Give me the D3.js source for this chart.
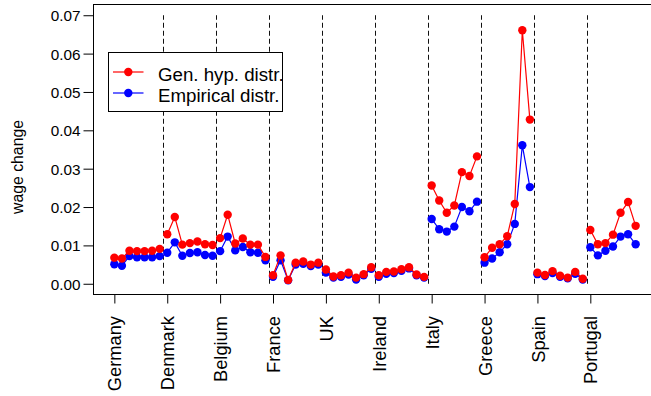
<!DOCTYPE html>
<html>
<head>
<meta charset="utf-8">
<script src="https://cdn.jsdelivr.net/npm/d3@7"></script>
<style>
  body { margin: 0; background: #fff; }
  svg { display: block; font-family: "Liberation Sans", Arial, sans-serif; }
</style>
</head>
<body>
<svg id="chart" width="651" height="396"></svg>
<script>
const countries = ["Germany", "Denmark", "Belgium", "France", "UK",
                   "Ireland", "Italy", "Greece", "Spain", "Portugal"];

const genHyp = [
  [0.0068, 0.0066, 0.0086, 0.0085, 0.0085, 0.0086, 0.0091],
  [0.0129, 0.0174, 0.0102, 0.0106, 0.0110, 0.0103, 0.0101],
  [0.0119, 0.0180, 0.0105, 0.0118, 0.0102, 0.0102, 0.0070],
  [0.0022, 0.0074, 0.0010, 0.0055, 0.0058, 0.0050, 0.0055],
  [0.0037, 0.0019, 0.0022, 0.0029, 0.0016, 0.0025, 0.0043],
  [0.0022, 0.0031, 0.0032, 0.0038, 0.0043, 0.0024, 0.0018],
  [0.0256, 0.0217, 0.0185, 0.0204, 0.0291, 0.0281, 0.0332],
  [0.0069, 0.0094, 0.0103, 0.0124, 0.0208, 0.0661, 0.0428],
  [0.0029, 0.0023, 0.0033, 0.0021, 0.0016, 0.0031, 0.0013],
  [0.0140, 0.0103, 0.0106, 0.0128, 0.0185, 0.0213, 0.0151]
];

const empirical = [
  [0.0051, 0.0047, 0.0072, 0.0069, 0.0069, 0.0069, 0.0072],
  [0.0081, 0.0108, 0.0073, 0.0080, 0.0082, 0.0075, 0.0073],
  [0.0085, 0.0123, 0.0087, 0.0096, 0.0082, 0.0081, 0.0061],
  [0.0018, 0.0061, 0.0009, 0.0050, 0.0052, 0.0046, 0.0050],
  [0.0029, 0.0016, 0.0018, 0.0024, 0.0011, 0.0022, 0.0039],
  [0.0018, 0.0026, 0.0028, 0.0034, 0.0040, 0.0022, 0.0016],
  [0.0169, 0.0142, 0.0136, 0.0149, 0.0200, 0.0189, 0.0214],
  [0.0055, 0.0066, 0.0082, 0.0103, 0.0156, 0.0361, 0.0252],
  [0.0025, 0.0020, 0.0028, 0.0018, 0.0014, 0.0026, 0.0011],
  [0.0095, 0.0074, 0.0086, 0.0097, 0.0123, 0.0129, 0.0103]
];

const yTicks = [0, 0.01, 0.02, 0.03, 0.04, 0.05, 0.06, 0.07];

const series = [
  {name: "Gen. hyp. distr.", color: "#ff0000", values: genHyp},
  {name: "Empirical distr.", color: "#0000ff", values: empirical}
];

const perCountry = 7;
const n = countries.length * perCountry;

const svg = d3.select("#chart");
const box = {left: 93.5, right: 656.5, top: 4.5, bottom: 294.5};

// R style 4% padding around 1..n and 0..0.07
let xPad = (n - 1) * 0.04, yPad = 0.07 * 0.04;
const x = d3.scaleLinear().domain([1 - xPad, n + xPad]).range([box.left, box.right]);
const y = d3.scaleLinear().domain([-yPad, 0.07 + yPad]).range([box.bottom, box.top]);

// country separators
const seps = d3.range(1, countries.length).map(i => i * perCountry + 0.5);
svg.append("g").selectAll("line").data(seps).join("line")
  .attr("x1", d => Math.round(x(d)) + 0.5).attr("x2", d => Math.round(x(d)) + 0.5)
  .attr("y1", y(0)).attr("y2", y(0.07))
  .attr("stroke", "#111").attr("stroke-width", 1)
  .attr("stroke-dasharray", "5,3");

// blue first, red drawn over it
const line = d3.line().x(d => x(d.i)).y(d => y(d.v));
series.slice().reverse().forEach(s => {
  let g = svg.append("g");
  s.values.forEach((vals, c) => {
    let pts = vals.map((v, k) => ({i: c * perCountry + k + 1, v: v}));
    g.append("path").datum(pts).attr("d", line)
      .attr("fill", "none").attr("stroke", s.color).attr("stroke-width", 1.2);
    g.selectAll(null).data(pts).join("circle")
      .attr("cx", d => x(d.i)).attr("cy", d => y(d.v)).attr("r", 4.2)
      .attr("fill", s.color);
  });
});

// plot frame
svg.append("rect")
  .attr("x", box.left).attr("y", box.top)
  .attr("width", box.right - box.left).attr("height", box.bottom - box.top)
  .attr("fill", "none").attr("stroke", "#000").attr("stroke-width", 1);

// y axis
const yAxis = svg.append("g").attr("transform", `translate(${box.left},0)`)
  .call(d3.axisLeft(y).tickValues(yTicks).tickFormat(d3.format(".2f"))
    .tickSize(10).tickPadding(3));
yAxis.select(".domain").attr("d", `M0,${y(0)}V${y(0.07)}`).attr("stroke", "#000");
yAxis.selectAll(".tick line").attr("stroke", "#000");
yAxis.selectAll("text").attr("font-size", 15.3).attr("fill", "#000")
  .attr("font-family", "Liberation Sans, Arial, sans-serif").attr("dy", "0.36em");

// x axis, one tick at the first point of each country
const starts = countries.map((c, i) => i * perCountry + 1);
const xAxis = svg.append("g").attr("transform", `translate(0,${box.bottom})`)
  .call(d3.axisBottom(x).tickValues(starts).tickFormat((d, i) => countries[i])
    .tickSize(9).tickPadding(0));
xAxis.select(".domain").attr("d", `M${x(starts[0])},0H${x(starts[starts.length - 1])}`)
  .attr("stroke", "#000");
xAxis.selectAll(".tick line").attr("stroke", "#000");
xAxis.selectAll("text")
  .attr("font-size", 18.3).attr("fill", "#000")
  .attr("font-family", "Liberation Sans, Arial, sans-serif")
  .attr("text-anchor", "end")
  .attr("transform", "translate(0,21.5) rotate(-90)")
  .attr("x", 0).attr("y", 0).attr("dy", "0.36em");

// y label
svg.append("text")
  .attr("transform", "translate(22.5,167) rotate(-90)")
  .attr("text-anchor", "middle").attr("font-size", 15.8)
  .text("wage change");

// legend
const lg = svg.append("g");
lg.append("rect").attr("x", 108.5).attr("y", 52.5).attr("width", 174).attr("height", 59)
  .attr("fill", "#fff").attr("stroke", "#000").attr("stroke-width", 1);
series.forEach((s, i) => {
  let ly = 72 + i * 21;
  lg.append("line").attr("x1", 113).attr("x2", 143.5).attr("y1", ly).attr("y2", ly)
    .attr("stroke", s.color).attr("stroke-width", 1.2);
  lg.append("circle").attr("cx", 128.3).attr("cy", ly).attr("r", 4.2).attr("fill", s.color);
  lg.append("text").attr("x", 158).attr("y", ly + 8.5).attr("font-size", 18.7)
    .text(s.name);
});
</script>
</body>
</html>
